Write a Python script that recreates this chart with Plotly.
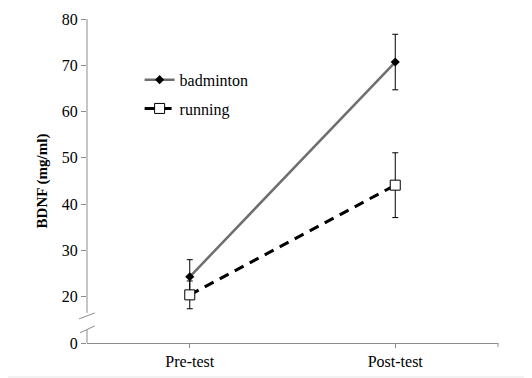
import plotly.graph_objects as go

phases = ["Pre-test", "Post-test"]
badminton = [24.3, 70.7]
badminton_err = [3.7, 6.0]
running = [20.4, 44.1]
running_err = [3.0, 7.0]

# axis is broken: the "0" tick sits where 10 would be
y_tickvals = [10, 20, 30, 40, 50, 60, 70, 80]
y_ticktext = ["0", "20", "30", "40", "50", "60", "70", "80"]

serif = "Liberation Serif"

fig = go.Figure()
fig.add_trace(go.Scatter(
    x=phases, y=badminton, name="badminton", mode="lines+markers", legendgroup="a",
    line=dict(color="#6e6e6e", width=2.5),
    marker=dict(symbol="diamond", size=7, color="black"),
    error_y=dict(type="data", array=badminton_err, color="black", thickness=1, width=3),
))
fig.add_trace(go.Scatter(
    x=phases, y=running, name="running", mode="lines+markers", legendgroup="b",
    line=dict(color="black", width=3, dash="10px,7px"),
    marker=dict(symbol="square", size=10, color="white", line=dict(color="black", width=1)),
    error_y=dict(type="data", array=running_err, color="black", thickness=1, width=3),
))

# page body adds an 8px offset, so the figure is shrunk by 8px
fig.update_layout(
    width=524, height=370,
    margin=dict(l=79, r=34, t=11, b=35),
    plot_bgcolor="white", paper_bgcolor="white",
    font=dict(family=serif, color="black", size=16),
    legend=dict(x=0.128, y=0.865, xanchor="left", yanchor="top",
                font=dict(family=serif, size=16), bgcolor="rgba(0,0,0,0)",
                tracegroupgap=5, itemwidth=30),
    showlegend=True,
)
fig.update_xaxes(
    type="category", range=[-0.5, 1.5], showline=True, linecolor="#8c8c8c", linewidth=1,
    ticks="outside", ticklen=4, tickcolor="#8c8c8c", showgrid=False, zeroline=False,
    tickfont=dict(family=serif, size=16), automargin=False,
)
fig.update_yaxes(
    range=[10, 80], tickvals=y_tickvals, ticktext=y_ticktext,
    showline=False, ticks="outside", ticklen=5, tickcolor="#8c8c8c",
    showgrid=False, zeroline=False, tickfont=dict(family=serif, size=16), automargin=False,
    title=dict(text="<b>BDNF (mg/ml)</b>", font=dict(family=serif, size=15), standoff=10),
)

# broken y axis line drawn as two segments with slash marks
seg_color = "#8c8c8c"
fig.add_shape(type="line", xref="paper", yref="y", x0=0, x1=0, y0=16.5, y1=80,
              line=dict(color=seg_color, width=1))
fig.add_shape(type="line", xref="paper", yref="y", x0=0, x1=0, y0=10, y1=12.8,
              line=dict(color=seg_color, width=1))
fig.add_shape(type="line", xref="paper", yref="y", x0=-0.0195, x1=0.019, y0=15.2, y1=16.5,
              line=dict(color=seg_color, width=1))
fig.add_shape(type="line", xref="paper", yref="y", x0=-0.017, x1=0.019, y0=12.2, y1=13.7,
              line=dict(color=seg_color, width=1))
# end tick at right of x axis
fig.add_shape(type="line", xref="paper", yref="paper", x0=1, x1=1, y0=0, y1=-0.012,
              line=dict(color=seg_color, width=1))
# faint frame line at bottom of the picture
fig.add_shape(type="line", xref="paper", yref="paper", x0=-0.3, x1=1.2, y0=-0.105, y1=-0.105,
              line=dict(color="#e6e6e6", width=1))

fig.write_html("out.html")
